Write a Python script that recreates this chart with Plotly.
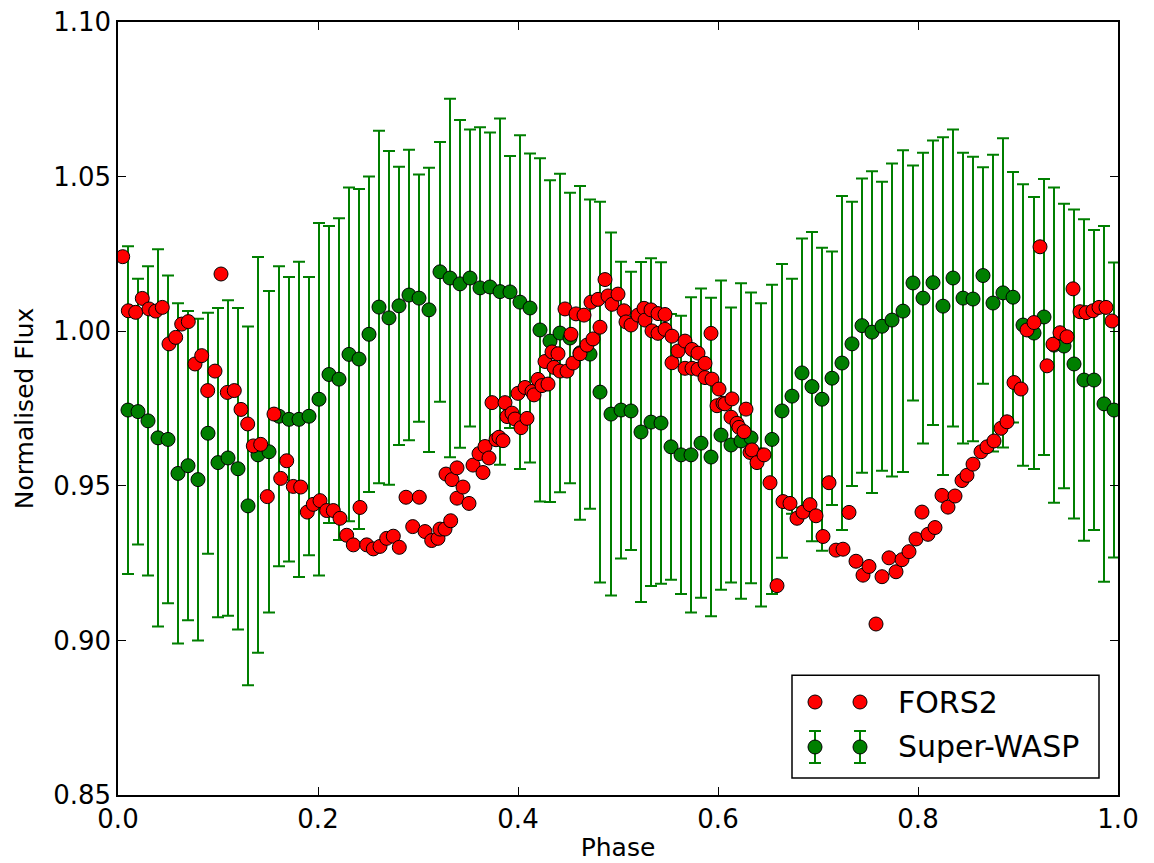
import plotly.graph_objects as go

# ---------------- Super-WASP (binned, with error bars) ----------------
wasp_phase = [0.010,0.020,0.030,0.040,0.050,0.060,0.070,0.080,0.090,0.100,
              0.110,0.120,0.130,0.140,0.151,0.161,0.171,0.181,0.191,0.201,
              0.211,0.221,0.231,0.241,0.251,0.261,0.271,0.281,0.291,0.301,
              0.311,0.322,0.332,0.342,0.352,0.362,0.372,0.382,0.392,0.402,
              0.412,0.422,0.432,0.442,0.452,0.462,0.472,0.482,0.493,0.503,
              0.513,0.523,0.533,0.543,0.553,0.563,0.573,0.583,0.593,0.603,
              0.613,0.623,0.633,0.643,0.654,0.664,0.674,0.684,0.694,0.704,
              0.714,0.724,0.734,0.744,0.754,0.764,0.774,0.785,0.795,0.805,
              0.815,0.825,0.835,0.845,0.855,0.865,0.875,0.885,0.895,0.905,
              0.916,0.926,0.936,0.946,0.956,0.966,0.976,0.986,0.996]
wasp_flux = [0.9745,0.974,0.971,0.9655,0.965,0.954,0.9565,0.952,0.967,0.9575,
             0.959,0.9555,0.9435,0.960,0.961,0.9725,0.9715,0.9715,0.9725,0.978,
             0.986,0.9845,0.9925,0.991,0.999,1.0078,1.0043,1.0082,1.0117,1.0107,
             1.0069,1.0192,1.0172,1.0153,1.0172,1.014,1.0143,1.0128,1.0127,1.0094,
             1.0075,1.0004,0.9968,0.9994,0.9978,0.993,0.9926,0.9803,0.9732,0.9745,
             0.9742,0.9674,0.9706,0.9703,0.9626,0.960,0.960,0.9638,0.9593,0.9664,
             0.9632,0.9645,0.9655,0.960,0.965,0.9742,0.979,0.9865,0.9821,0.978,
             0.9848,0.9897,0.9959,1.0018,0.9997,1.0016,1.0036,1.0065,1.0156,1.0107,
             1.0157,1.0081,1.0172,1.0107,1.0104,1.018,1.0091,1.0124,1.011,1.002,
             0.9994,1.0046,0.9955,0.9952,0.9894,0.9842,0.9842,0.9765,0.9745]
wasp_err = [0.053,0.043,0.050,0.061,0.053,0.055,0.050,0.052,0.039,0.050,
            0.051,0.052,0.058,0.064,0.052,0.0485,0.046,0.051,0.045,0.057,
            0.048,0.052,0.054,0.055,0.051,0.057,0.054,0.045,0.047,0.040,
            0.046,0.042,0.058,0.053,0.048,0.052,0.050,0.056,0.044,0.054,
            0.050,0.0555,0.052,0.0515,0.047,0.054,0.050,0.0616,0.0587,0.048,
            0.045,0.055,0.053,0.052,0.043,0.045,0.051,0.050,0.0515,0.050,
            0.0445,0.051,0.047,0.049,0.050,0.0475,0.038,0.0435,0.050,0.049,
            0.041,0.054,0.046,0.0476,0.052,0.0467,0.0506,0.052,0.038,0.047,
            0.046,0.0546,0.048,0.047,0.046,0.035,0.048,0.050,0.0405,0.0455,
            0.044,0.0446,0.051,0.046,0.050,0.052,0.0485,0.0575,0.0477]

# ---------------- FORS2 ----------------
fors_phase = [0.0047,0.0103,0.0177,0.0243,0.031,0.0377,0.0443,0.051,0.0577,0.0637,
              0.0703,0.077,0.0837,0.0897,0.097,0.103,0.1093,0.1163,0.123,0.1297,
              0.1353,0.1427,0.1493,0.156,0.1627,0.1687,0.1753,0.1827,0.1893,0.1953,
              0.202,0.2087,0.2153,0.222,0.2287,0.2353,0.242,0.2487,0.2553,0.262,
              0.2687,0.2753,0.2813,0.288,0.2947,0.3013,0.307,0.3137,0.320,0.322,
              0.327,0.3327,0.328,0.334,0.339,0.339,0.345,0.351,0.355,0.361,
              0.365,0.367,0.371,0.374,0.378,0.381,0.385,0.387,0.389,0.394,
              0.397,0.400,0.403,0.407,0.409,0.414,0.416,0.420,0.424,0.427,
              0.430,0.434,0.436,0.440,0.442,0.447,0.449,0.453,0.455,0.458,
              0.462,0.466,0.469,0.473,0.475,0.480,0.482,0.487,0.490,0.494,
              0.500,0.506,0.508,0.513,0.520,0.526,0.527,0.533,0.534,0.540,
              0.540,0.547,0.547,0.554,0.554,0.560,0.567,0.567,0.574,0.574,
              0.580,0.580,0.587,0.587,0.593,0.594,0.599,0.601,0.605,0.607,
              0.613,0.614,0.619,0.621,0.626,0.628,0.632,0.634,0.639,0.646,
              0.652,0.659,0.665,0.672,0.679,0.685,0.692,0.698,0.705,0.711,
              0.718,0.725,0.731,0.738,0.745,0.751,0.758,0.764,0.771,0.778,
              0.784,0.791,0.798,0.804,0.810,0.817,0.824,0.830,0.837,0.844,
              0.849,0.855,0.863,0.869,0.876,0.883,0.889,0.896,0.903,0.909,
              0.916,0.922,0.929,0.935,0.942,0.949,0.955,0.962,0.968,0.975,
              0.981,0.988,0.994]
fors_flux = [1.0241,1.0066,1.0061,1.0106,1.0072,1.0065,1.0077,0.9959,0.998,1.0023,
             1.0031,0.9894,0.9921,0.9808,0.9871,1.0185,0.9802,0.9808,0.9747,0.970,
             0.9629,0.9634,0.9465,0.9732,0.9524,0.9581,0.9498,0.9496,0.9415,0.944,
             0.9452,0.942,0.942,0.9395,0.934,0.9309,0.943,0.9309,0.9296,0.9304,
             0.933,0.9337,0.9301,0.9463,0.9368,0.9463,0.9352,0.9323,0.933,0.936,
             0.936,0.9387,0.9538,0.952,0.9558,0.946,0.9496,0.9443,0.9567,0.9604,
             0.9543,0.9627,0.959,0.9769,0.9649,0.9657,0.9646,0.9769,0.9724,0.9735,
             0.9716,0.9799,0.9688,0.9818,0.9718,0.9805,0.9794,0.9844,0.9824,0.9902,
             0.9829,0.9933,0.9883,0.9927,0.9871,1.0072,0.9871,0.999,0.9897,1.0056,
             0.9927,1.0052,0.9955,1.0094,0.9975,1.0103,1.0013,1.0167,1.0114,1.0087,
             1.012,1.0066,1.003,1.002,1.0052,1.0074,1.0036,1.0069,1.0001,1.0057,
             0.9993,1.0054,1.0006,0.9984,0.9898,0.9936,0.9968,0.988,0.9941,0.988,
             0.9929,0.9877,0.9896,0.985,0.9993,0.9845,0.9759,0.9813,0.9767,0.9765,
             0.9722,0.9781,0.9702,0.9689,0.9675,0.9748,0.9608,0.9616,0.9575,0.960,
             0.951,0.9177,0.9449,0.9443,0.9395,0.9415,0.9439,0.9403,0.9336,0.951,
             0.9292,0.9295,0.9414,0.9256,0.9211,0.9239,0.9053,0.9206,0.9267,0.9222,
             0.9261,0.9287,0.9328,0.9415,0.9343,0.9365,0.9469,0.9431,0.9467,0.9517,
             0.9534,0.957,0.961,0.9626,0.9645,0.9686,0.9707,0.9834,0.9813,1.0004,
             1.0028,1.0273,0.9888,0.9958,0.9995,0.9982,1.0137,1.0063,1.0060,1.0066,
             1.0077,1.0077,1.0033]

x_ticks = [0.0, 0.2, 0.4, 0.6, 0.8, 1.0]
x_ticklabels = ["0.0", "0.2", "0.4", "0.6", "0.8", "1.0"]
y_ticks = [0.85, 0.90, 0.95, 1.00, 1.05, 1.10]
y_ticklabels = ["0.85", "0.90", "0.95", "1.00", "1.05", "1.10"]

legend_labels = ["FORS2", "Super-WASP"]

FONT = "DejaVu Sans"
RED = "#ff0000"
GREEN = "#007f00"

fig = go.Figure()
fig.add_trace(go.Scatter(
    x=wasp_phase, y=wasp_flux, mode="markers", name="Super-WASP",
    marker=dict(color=GREEN, size=14, line=dict(color="black", width=1)),
    error_y=dict(type="data", array=wasp_err, visible=True,
                 color=GREEN, thickness=2, width=6),
))
fig.add_trace(go.Scatter(
    x=fors_phase, y=fors_flux, mode="markers", name="FORS2",
    marker=dict(color=RED, size=14, line=dict(color="black", width=1)),
))

axis_common = dict(
    showline=True, linecolor="black", linewidth=1.5, mirror="allticks",
    ticks="inside", ticklen=8, tickwidth=1, tickcolor="black",
    showgrid=False, zeroline=False, automargin=False,
    ticklabeloverflow="allow",
    tickfont=dict(family=FONT, size=26, color="black"),
)

# ----- matplotlib-style legend box (two sample markers per entry) -----
shapes = [dict(type="rect", xref="paper", yref="paper",
               x0=0.674, x1=0.981, y0=0.022, y1=0.155,
               fillcolor="white", line=dict(color="black", width=1.5), layer="above")]
annotations = []
row_y = [0.1203, 0.0621]
sample_x = [0.697, 0.742]
colors = [RED, GREEN]
for i, lab in enumerate(legend_labels):
    yc = row_y[i]
    for xc in sample_x:
        if i == 1:
            shapes.append(dict(type="line", xref="paper", yref="paper",
                               xsizemode="pixel", ysizemode="pixel",
                               xanchor=xc, yanchor=yc, x0=0, x1=0, y0=-16, y1=16,
                               line=dict(color=GREEN, width=2), layer="above"))
            for dy in (-16, 16):
                shapes.append(dict(type="line", xref="paper", yref="paper",
                                   xsizemode="pixel", ysizemode="pixel",
                                   xanchor=xc, yanchor=yc, x0=-6, x1=6, y0=dy, y1=dy,
                                   line=dict(color=GREEN, width=2), layer="above"))
        shapes.append(dict(type="circle", xref="paper", yref="paper",
                           xsizemode="pixel", ysizemode="pixel",
                           xanchor=xc, yanchor=yc, x0=-7, x1=7, y0=-7, y1=7,
                           fillcolor=colors[i], line=dict(color="black", width=1),
                           layer="above"))
    annotations.append(dict(text=lab, xref="paper", yref="paper", x=0.778, y=yc,
                            xanchor="left", yanchor="middle", showarrow=False,
                            font=dict(family=FONT, size=30, color="black")))

fig.update_layout(
    width=1138, height=855,
    margin=dict(l=110, r=28, t=14, b=68),
    paper_bgcolor="white", plot_bgcolor="white",
    font=dict(family=FONT, color="black"),
    xaxis=dict(range=[0, 1], tickvals=x_ticks, ticktext=x_ticklabels,
               title=dict(text="Phase", font=dict(family=FONT, size=25), standoff=6),
               **axis_common),
    yaxis=dict(range=[0.85, 1.10], tickvals=y_ticks, ticktext=y_ticklabels,
               title=dict(text="Normalised Flux", font=dict(family=FONT, size=25), standoff=12),
               **axis_common),
    showlegend=False,
    shapes=shapes,
    annotations=annotations,
)

fig.write_html("out.html")
